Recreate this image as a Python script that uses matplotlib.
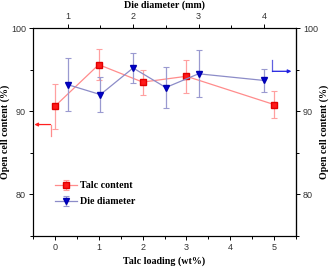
import matplotlib
matplotlib.use("Agg")
import matplotlib.pyplot as plt

# Talc content series (bottom axis)
talc_x = [0, 1, 2, 3, 5]
talc_y = [90.6, 95.6, 93.5, 94.2, 90.8]
talc_err = [2.7, 1.9, 1.5, 2.0, 1.6]

# Die diameter series (top axis)
die_x = [1.0, 1.5, 2.0, 2.5, 3.0, 4.0]
die_y = [93.2, 92.0, 95.2, 92.85, 94.5, 93.7]
die_err = [3.2, 2.1, 1.8, 2.5, 2.8, 1.4]

label_font = {"family": "Liberation Serif", "weight": "bold", "size": 7.2}
tick_font = "Liberation Sans"

fig = plt.figure(figsize=(3.3, 2.67), dpi=100)
ax = fig.add_axes([0.1, 0.116, 0.797, 0.779])

ax.errorbar(talc_x, talc_y, yerr=talc_err, color="#ff8c8c", lw=0.9,
            ecolor="#ffa0a0", elinewidth=0.9, capsize=2, capthick=0.8,
            marker="s", ms=4.5, mfc="#ff1a1a", mec="#e00000",
            label="Talc content")
ax.set_xlim(-0.5, 5.5)
ax.set_ylim(75, 100)
ax.set_xticks([0, 1, 2, 3, 4, 5])
ax.set_xticks([-0.5, 0.5, 1.5, 2.5, 3.5, 4.5, 5.5], minor=True)
ax.set_yticks([80, 90, 100])
ax.set_yticks([75, 85, 95], minor=True)
ax.set_xlabel("Talc loading (wt%)", fontdict=label_font, labelpad=3)
ax.set_ylabel("Open cell content (%)", fontdict=label_font, labelpad=1)
ax.tick_params(which="both", direction="out", length=3, width=0.7,
               labelsize=6.5, labelcolor="#333333", pad=2)
ax.tick_params(which="minor", length=2)

ax2 = ax.twiny()
ax2.errorbar(die_x, die_y, yerr=die_err, color="#8c8cc8", lw=0.9,
             ecolor="#9a9ad0", elinewidth=0.9, capsize=2, capthick=0.8,
             marker="v", ms=5, mfc="#0000d0", mec="#0000b0",
             label="Die diameter")
ax2.set_xlim(0.47, 4.49)
ax2.set_xticks([1, 2, 3, 4])
ax2.set_xticks([1.5, 2.5, 3.5], minor=True)
ax2.set_xlabel("Die diameter (mm)", fontdict=label_font, labelpad=3)
ax2.tick_params(which="both", direction="out", length=3, width=0.7,
                labelsize=6.5, labelcolor="#333333", pad=2)
ax2.tick_params(which="minor", length=2)

ax3 = ax.secondary_yaxis("right")
ax3.set_yticks([80, 90, 100])
ax3.set_yticks([75, 85, 95], minor=True)
ax3.set_ylabel("Open cell content (%)", fontdict=label_font, labelpad=1)
ax3.tick_params(which="both", direction="out", length=3, width=0.7,
                labelsize=6.5, labelcolor="#333333", pad=2)
ax3.tick_params(which="minor", length=2)

for a in (ax, ax2, ax3):
    for lab in a.get_xticklabels() + a.get_yticklabels():
        lab.set_fontfamily(tick_font)
    for s in a.spines.values():
        s.set_linewidth(0.8)

# series pointers
ax.plot([-0.1, -0.1], [87.0, 88.4], color="#ff8c8c", lw=0.9)
ax.annotate("", xy=(-0.47, 88.4), xytext=(-0.1, 88.4),
            arrowprops=dict(arrowstyle="-|>", color="#ff2020", lw=0.9,
                            mutation_scale=5, shrinkA=0, shrinkB=0))
ax2.plot([4.13, 4.13], [96.1, 94.8], color="#6060e0", lw=0.9)
ax2.annotate("", xy=(4.42, 94.8), xytext=(4.13, 94.8),
             arrowprops=dict(arrowstyle="-|>", color="#2020e0", lw=0.9,
                             mutation_scale=5, shrinkA=0, shrinkB=0))

h1, l1 = ax.get_legend_handles_labels()
h2, l2 = ax2.get_legend_handles_labels()
ax2.legend(h1 + h2, l1 + l2, loc="lower left", bbox_to_anchor=(0.05, 0.1),
           frameon=False, prop=label_font, handlelength=2.2,
           handletextpad=0.3, labelspacing=0.7)

fig.savefig("out.png", dpi=100)
